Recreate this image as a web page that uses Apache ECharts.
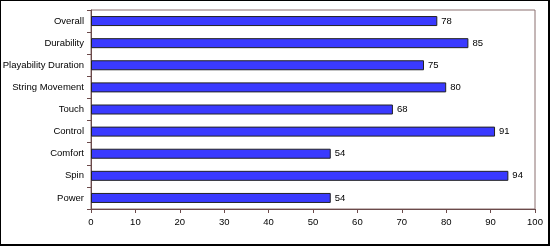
<!DOCTYPE html>
<html><head><meta charset="utf-8">
<script src="https://cdn.jsdelivr.net/npm/echarts@6/dist/echarts.min.js"></script>
<style>
html,body{margin:0;padding:0;background:#fff;}
#wrap{position:relative;width:550px;height:246px;}
#chart{position:absolute;left:0;top:0;width:550px;height:246px;}
#frame{position:absolute;left:0;top:0;width:550px;height:246px;box-sizing:border-box;border:1px solid #000;border-right-width:2px;border-bottom-width:2px;pointer-events:none;}
</style></head>
<body><div id="wrap"><div id="chart"></div><div id="frame"></div></div>
<script>
const categories = ["Overall","Durability","Playability Duration","String Movement","Touch","Control","Comfort","Spin","Power"];
const values = [78,85,75,80,68,91,54,94,54];
const xTicks = [0,10,20,30,40,50,60,70,80,90,100];

const chart = echarts.init(document.getElementById('chart'), null, {renderer:'canvas'});
const font = 'Liberation Sans';
const fs = 9.5;
chart.setOption({
  animation:false,
  grid:{left:91,right:15,top:10,bottom:37,containLabel:false,outerBoundsMode:'none',show:true,borderColor:'#8a6f6f',borderWidth:1,backgroundColor:'#fff'},
  xAxis:{type:'value',min:xTicks[0],max:xTicks[xTicks.length-1],interval:10,
    axisLine:{show:true,lineStyle:{color:'#6b4a4a',width:1}},
    axisTick:{show:true,length:4,lineStyle:{color:'#6b4a4a'}},
    splitLine:{show:false},
    axisLabel:{color:'#000',fontFamily:font,fontSize:fs,margin:8}},
  yAxis:{type:'category',data:categories,inverse:true,
    axisLine:{show:true,lineStyle:{color:'#6b4a4a',width:1}},
    axisTick:{show:true,length:4,lineStyle:{color:'#6b4a4a'}},
    axisLabel:{color:'#000',fontFamily:font,fontSize:fs,margin:7}},
  series:[{type:'bar',data:values,barWidth:10,
    itemStyle:{color:'#3a3aff',borderColor:'#222',borderWidth:1},
    label:{show:true,position:'right',distance:4,color:'#000',fontFamily:font,fontSize:fs}}]
});
</script></body></html>
